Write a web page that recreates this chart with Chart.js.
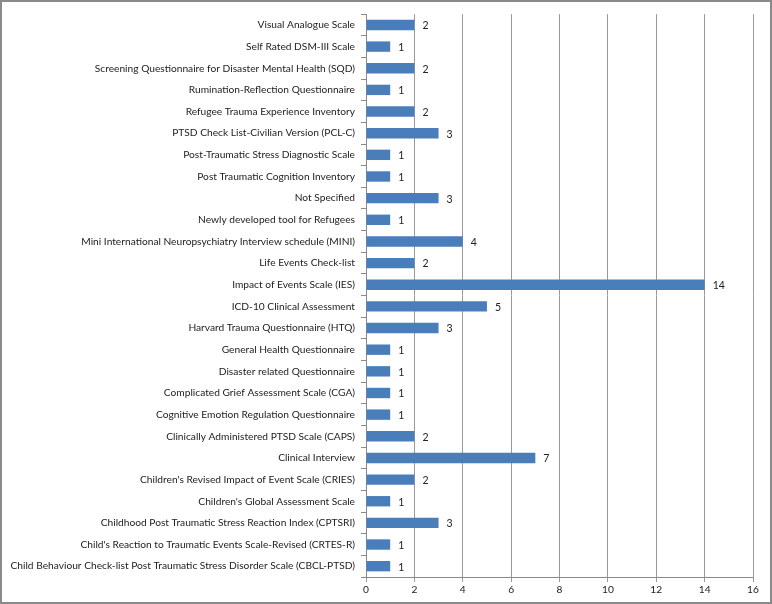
<!DOCTYPE html>
<html>
<head>
<meta charset="utf-8">
<script src="https://cdn.jsdelivr.net/npm/chart.js@4/dist/chart.umd.min.js"></script>
<style>
  html, body { margin: 0; padding: 0; background: #fff; }
  #wrap { width: 772px; height: 604px; box-sizing: border-box; border: 2px solid #8a8a8a; }
</style>
</head>
<body>
<div id="wrap"><canvas id="chart" width="768" height="600"></canvas></div>
<script>
// instrument names, top to bottom as in the picture
const instruments = [
    'Visual Analogue Scale',
    'Self Rated DSM-III Scale',
    'Screening Questionnaire for Disaster Mental Health (SQD)',
    'Rumination-Reflection Questionnaire',
    'Refugee Trauma Experience Inventory',
    'PTSD Check List-Civilian Version (PCL-C)',
    'Post-Traumatic Stress Diagnostic Scale',
    'Post Traumatic Cognition Inventory',
    'Not Specified',
    'Newly developed tool for Refugees',
    'Mini International Neuropsychiatry Interview schedule (MINI)',
    'Life Events Check-list',
    'Impact of Events Scale (IES)',
    'ICD-10 Clinical Assessment',
    'Harvard Trauma Questionnaire (HTQ)',
    'General Health Questionnaire',
    'Disaster related Questionnaire',
    'Complicated Grief Assessment Scale (CGA)',
    'Cognitive Emotion Regulation Questionnaire',
    'Clinically Administered PTSD Scale (CAPS)',
    'Clinical Interview',
    "Children's Revised Impact of Event Scale (CRIES)",
    "Children's Global Assessment Scale",
    'Childhood Post Traumatic Stress Reaction Index (CPTSRI)',
    "Child's Reaction to Traumatic Events Scale-Revised (CRTES-R)",
    'Child Behaviour Check-list Post Traumatic Stress Disorder Scale (CBCL-PTSD)'
];

const studyCounts = [2, 1, 2, 1, 2, 3, 1, 1, 3, 1, 4, 2, 14, 5, 3, 1, 1, 1, 1, 2, 7, 2, 1, 3, 1, 1];

const xTicks = [0, 2, 4, 6, 8, 10, 12, 14, 16];

const labelFont = { family: 'Lato, "Open Sans", sans-serif', size: 10.2 };

// draws the number just right of each bar
const valueLabels = {
    id: 'valueLabels',
    afterDatasetsDraw(chart) {
        const ctx = chart.ctx;
        const meta = chart.getDatasetMeta(0);
        ctx.save();
        ctx.font = '10.5px ' + labelFont.family;
        ctx.fillStyle = '#222';
        ctx.textAlign = 'left';
        ctx.textBaseline = 'middle';
        meta.data.forEach((bar, i) => {
            ctx.fillText(String(studyCounts[i]), bar.x + 8, bar.y + 1);
        });
        ctx.restore();
    }
};

const ctx = document.getElementById('chart').getContext('2d');
new Chart(ctx, {
    type: 'bar',
    data: {
        labels: instruments,
        datasets: [{
            data: studyCounts,
            backgroundColor: '#4a7ebb',
            borderWidth: 0,
            categoryPercentage: 1,
            barPercentage: 0.48
        }]
    },
    options: {
        indexAxis: 'y',
        responsive: false,
        animation: false,
        layout: { padding: { top: 12, right: 17, bottom: 1, left: 2 } },
        plugins: {
            legend: { display: false },
            tooltip: { enabled: false }
        },
        scales: {
            x: {
                min: 0,
                max: 16,
                afterBuildTicks(scale) {
                    scale.ticks = xTicks.map(v => ({ value: v }));
                },
                afterFit(scale) { scale.height = 24; },
                grid: { color: '#9a9a9a', lineWidth: 1, tickLength: 5, drawTicks: true },
                border: { display: true, color: '#8a8a8a' },
                ticks: { color: '#222', font: labelFont, padding: 2 }
            },
            y: {
                offset: true,
                afterFit(scale) { scale.width = 362; },
                grid: { offset: true, drawOnChartArea: false, tickLength: 5, color: '#8a8a8a' },
                border: { display: true, color: '#8a8a8a' },
                ticks: { color: '#222', font: labelFont, padding: 6, autoSkip: false }
            }
        }
    },
    plugins: [valueLabels]
});
</script>
</body>
</html>
